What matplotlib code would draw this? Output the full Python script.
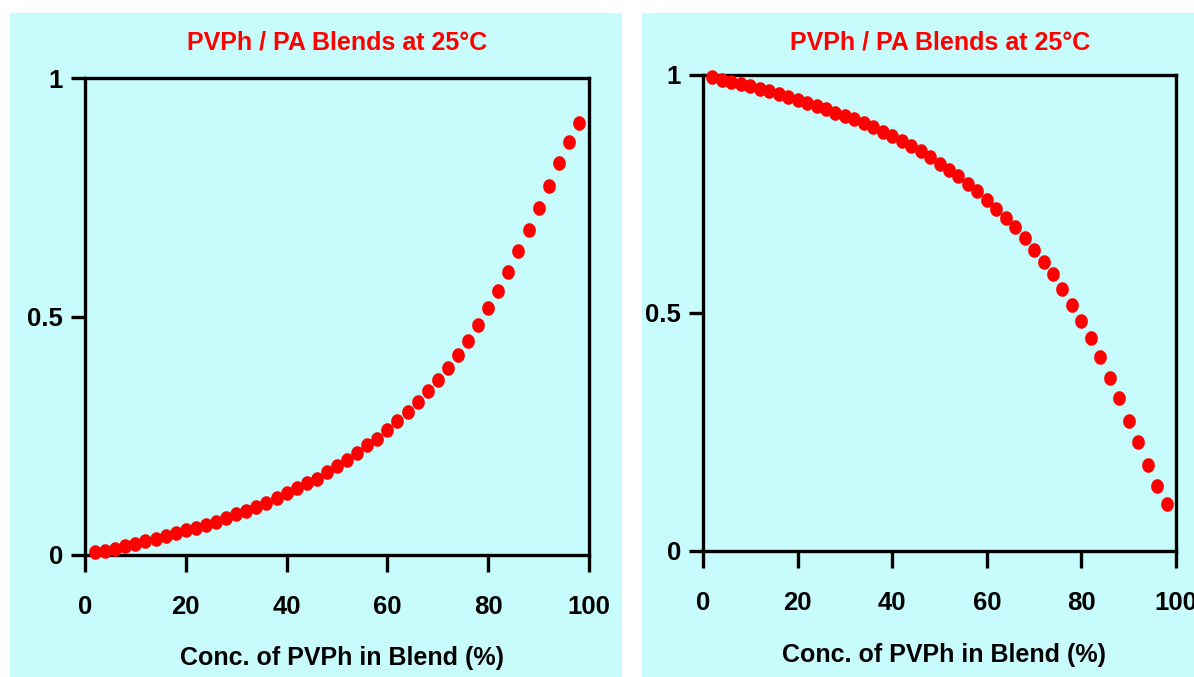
import numpy as np
import matplotlib
matplotlib.use("Agg")
import matplotlib.pyplot as plt
from matplotlib.patches import Rectangle
from matplotlib.path import Path

# ---- data ----
conc = [2, 4, 6, 8, 10, 12, 14, 16, 18, 20, 22, 24, 26, 28, 30, 32, 34, 36, 38, 40,
        42, 44, 46, 48, 50, 52, 54, 56, 58, 60, 62, 64, 66, 68, 70, 72, 74, 76, 78, 80,
        82, 84, 86, 88, 90, 92, 94, 96, 98]

left_vals = [0.006, 0.009, 0.013, 0.019, 0.023, 0.029, 0.034, 0.040, 0.046, 0.052,
             0.057, 0.063, 0.070, 0.078, 0.085, 0.092, 0.100, 0.108, 0.119, 0.130,
             0.140, 0.150, 0.160, 0.173, 0.186, 0.199, 0.214, 0.230, 0.244, 0.263,
             0.281, 0.300, 0.320, 0.343, 0.367, 0.393, 0.419, 0.449, 0.483, 0.517,
             0.554, 0.594, 0.637, 0.681, 0.728, 0.774, 0.821, 0.865, 0.905]

right_vals = [0.995, 0.990, 0.986, 0.981, 0.977, 0.971, 0.966, 0.960, 0.954, 0.948,
              0.942, 0.935, 0.929, 0.921, 0.914, 0.907, 0.899, 0.891, 0.881, 0.871,
              0.861, 0.851, 0.840, 0.828, 0.814, 0.801, 0.787, 0.770, 0.756, 0.737,
              0.719, 0.700, 0.680, 0.657, 0.633, 0.607, 0.581, 0.550, 0.517, 0.484,
              0.447, 0.407, 0.364, 0.321, 0.273, 0.228, 0.181, 0.137, 0.098]

title_text = "PVPh / PA Blends at 25\u00b0C"
xlabel_text = "Conc. of PVPh in Blend (%)"
xticks = [0, 20, 40, 60, 80, 100]
xtick_labels = ["0", "20", "40", "60", "80", "100"]
yticks = [0, 0.5, 1]
ytick_labels = ["0", "0.5", "1"]

# ---- style ----
W, H = 1194, 677
DPI = 100
BG = "#c8fcfc"
RED = "#ff0000"
FONT = ["Liberation Sans Narrow", "Liberation Sans", "DejaVu Sans"]
FS_TICK = 18.5
FS_TITLE = 18
FS_LABEL = 18

plt.rcParams["font.family"] = FONT
plt.rcParams["font.weight"] = "bold"

fig = plt.figure(figsize=(W / DPI, H / DPI), dpi=DPI)
fig.patch.set_facecolor("white")

def fx(px):
    return px / W

def fy(py):
    return 1 - py / H

# panel backgrounds (behind the axes)
fig.patches.append(Rectangle((fx(10), 0), fx(622) - fx(10), fy(13), transform=fig.transFigure,
                             facecolor=BG, edgecolor="none", zorder=-10))
fig.patches.append(Rectangle((fx(642), 0), 1 - fx(642), fy(13), transform=fig.transFigure,
                             facecolor=BG, edgecolor="none", zorder=-10))

# slightly tall elliptical dot marker
t = np.linspace(0, 2 * np.pi, 40)
dot = Path(np.column_stack([np.cos(t), 1.15 * np.sin(t)]), closed=True)

panels = [
    # axes rect in px (left, top, right, bottom), values, title center x, xlabel center (x, y)
    ((85, 78, 589, 555), left_vals, 337, (342, 658)),
    ((703, 75, 1176, 551), right_vals, 940, (944, 655)),
]

for (l, tp, r, b), vals, tcx, (lx, ly) in panels:
    ax = fig.add_axes([fx(l), fy(b), fx(r) - fx(l), fy(tp) - fy(b)])
    ax.set_zorder(1)
    ax.set_facecolor("none")
    ax.plot(conc, vals, linestyle="none", marker=dot, markersize=10.5,
            color=RED, markeredgewidth=0, clip_on=False, zorder=5)
    ax.set_xlim(0, 100)
    ax.set_ylim(0, 1)
    ax.set_xticks(xticks)
    ax.set_xticklabels(xtick_labels)
    ax.set_yticks(yticks)
    ax.set_yticklabels(ytick_labels)
    for s in ax.spines.values():
        s.set_linewidth(2.4)
        s.set_color("black")
    ax.tick_params(axis="x", direction="out", length=12.5, width=2.4, pad=16,
                   labelsize=FS_TICK, colors="black")
    ax.tick_params(axis="y", direction="out", length=10, width=2.4, pad=6,
                   labelsize=FS_TICK, colors="black")
    for lab in ax.get_xticklabels() + ax.get_yticklabels():
        lab.set_fontweight("bold")
    fig.text(fx(tcx), fy(43), title_text, color=RED, fontsize=FS_TITLE, fontweight="bold",
             ha="center", va="center")
    fig.text(fx(lx), fy(ly), xlabel_text, color="black", fontsize=FS_LABEL,
             fontweight="bold", ha="center", va="center")

fig.savefig("out.png", dpi=DPI, facecolor=fig.get_facecolor())
